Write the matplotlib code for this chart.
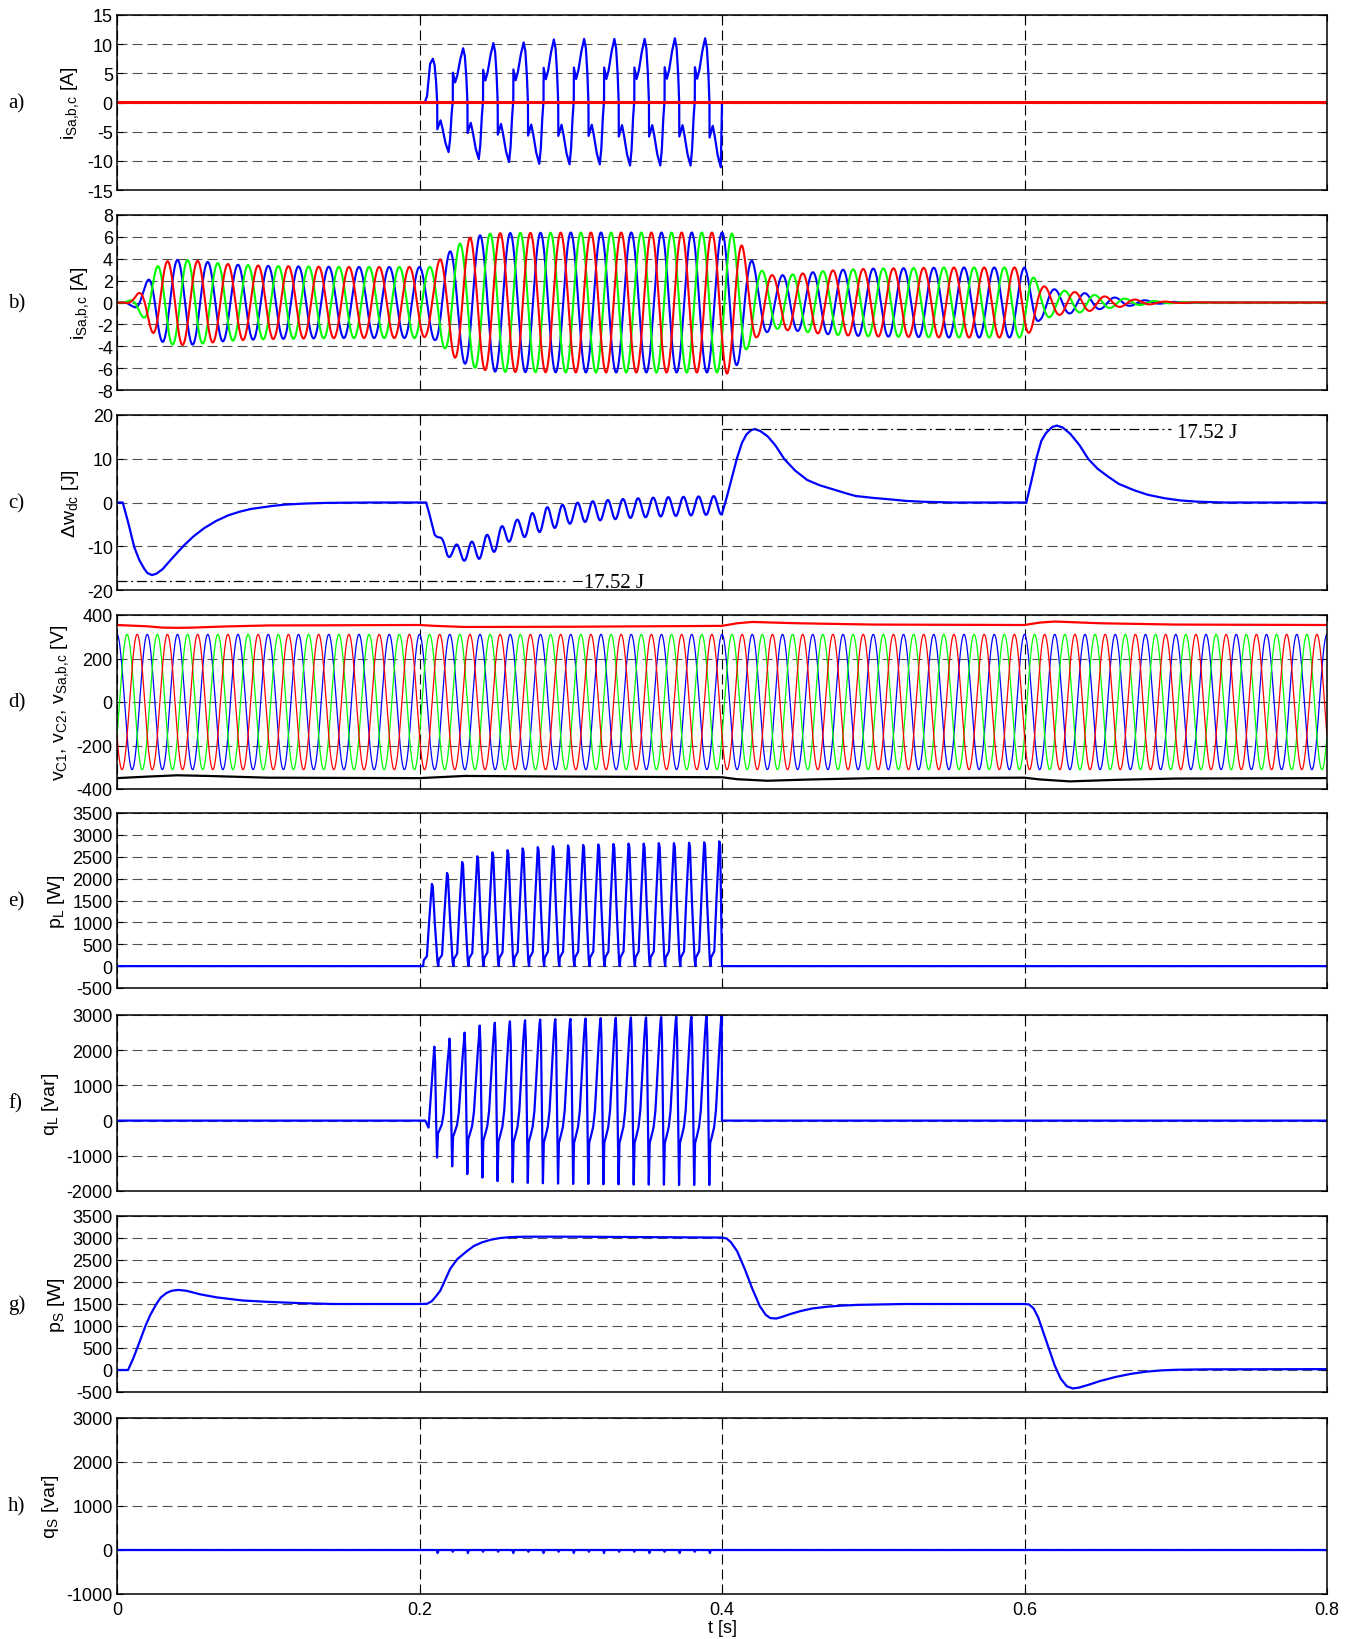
import numpy as np
import matplotlib.pyplot as plt

plt.rcParams['font.family'] = ['Liberation Sans', 'DejaVu Sans']
plt.rcParams['mathtext.default'] = 'regular'
plt.rcParams['axes.unicode_minus'] = False

W, H = 1356, 1640
F_GRID = 50.0          # supply frequency [Hz]
PERIOD = 1.0 / F_GRID

# ---------------- a) load current, one distorted period (normalised)
a_phase = [0.0, 0.004, 0.077, 0.15, 0.25, 0.342, 0.40, 0.45, 0.485, 0.489,
           0.595, 0.66, 0.76, 0.86, 0.91, 0.96, 0.996]
a_shape = [0.0, 0.55, 0.37, 0.50, 0.80, 1.0, 0.85, 0.45, 0.0, -0.54,
           -0.36, -0.52, -0.82, -1.0, -0.75, -0.25, 0.0]
a_first_rise = [0.0, 0.0, 0.0, 0.15, 0.88]
a_pos_peak = [7.5, 9.3, 10.2, 10.3, 10.8, 10.9, 10.9, 10.9, 11.0, 11.0]
a_neg_peak = [8.5, 9.7, 10.2, 10.5, 10.6, 10.6, 10.8, 10.8, 10.8, 11.1]
a_start = 0.2020

# ---------------- b) source current amplitude envelope
b_env_t = [0.0, 0.005, 0.011, 0.015, 0.018, 0.021, 0.024, 0.027, 0.030, 0.034,
           0.040, 0.050, 0.060, 0.070, 0.080, 0.100, 0.120, 0.150, 0.200, 0.2038,
           0.2071, 0.2104, 0.2137, 0.2170, 0.2203, 0.2236, 0.2269, 0.2302, 0.2335, 0.2369,
           0.2402, 0.2435, 0.2468, 0.2550, 0.300, 0.350, 0.400, 0.4034, 0.4067, 0.4100,
           0.4133, 0.4166, 0.4200, 0.4232, 0.4265, 0.4300, 0.4332, 0.4366, 0.4400, 0.4500,
           0.4650, 0.4800, 0.5000, 0.5500, 0.6000, 0.6050, 0.6100, 0.6200, 0.6300, 0.6400,
           0.6500, 0.6600, 0.6700, 0.6800, 0.6900, 0.7000, 0.7200, 0.8000]
b_env_v = [0.0, 0.0, 0.4, 1.0, 1.5, 2.2, 2.85, 3.35, 3.6, 3.8,
           3.9, 3.85, 3.7, 3.55, 3.45, 3.35, 3.3, 3.25, 3.25, 3.15,
           3.27, 3.45, 3.97, 4.2, 4.7, 5.06, 5.4, 5.6, 5.94, 5.97,
           6.15, 6.18, 6.3, 6.35, 6.4, 6.4, 6.4, 6.5, 6.3, 5.7,
           5.2, 4.2, 3.8, 3.15, 2.9, 2.7, 2.5, 2.4, 2.5, 2.6,
           2.85, 3.0, 3.1, 3.2, 3.2, 2.5, 1.6, 1.2, 1.0, 0.85,
           0.6, 0.45, 0.3, 0.2, 0.1, 0.05, 0.0, 0.0]

# ---------------- c) dc-link energy deviation (trend + 100 Hz ripple)
c_t = [0.0, 0.0038, 0.007, 0.0112, 0.0145, 0.0177, 0.020, 0.023, 0.026, 0.030,
       0.035, 0.0437, 0.050, 0.057, 0.065, 0.073, 0.080, 0.088, 0.100, 0.110,
       0.120, 0.135, 0.160, 0.2044, 0.2100, 0.2133, 0.218, 0.222, 0.232, 0.242,
       0.252, 0.262, 0.272, 0.282, 0.290, 0.300, 0.320, 0.340, 0.360, 0.380,
       0.400, 0.4001, 0.403, 0.406, 0.4098, 0.413, 0.416, 0.419, 0.4215, 0.425,
       0.430, 0.435, 0.441, 0.448, 0.456, 0.464, 0.4708, 0.480, 0.488, 0.498,
       0.509, 0.520, 0.530, 0.550, 0.6012, 0.604, 0.6078, 0.611, 0.614, 0.618,
       0.6212, 0.625, 0.630, 0.636, 0.642, 0.648, 0.6537, 0.662, 0.6716, 0.681,
       0.692, 0.702, 0.713, 0.730, 0.800]
c_v = [0, 0, -4, -10, -13, -15, -16.1, -16.6, -16.3, -15.3,
       -13.3, -10, -7.9, -6, -4.3, -3, -2.2, -1.5, -0.9, -0.5,
       -0.3, -0.1, 0, 0, -7.0, -8.5, -10.8, -11.2, -11.4, -10.3,
       -8.3, -6.3, -5.3, -3.8, -3.3, -2.5, -1.8, -1.3, -1.0, -0.8,
       -0.6, -2.5, 1, 5, 10, 13.5, 15.5, 16.5, 16.8, 16.4,
       15.2, 13.2, 10, 7.4, 5.2, 4.0, 3.3, 2.3, 1.5, 1.1,
       0.8, 0.4, 0.2, 0, 0, 4, 10, 14, 15.8, 17.2,
       17.6, 17.2, 15.8, 13.3, 10, 7.8, 6.3, 4.3, 2.9, 1.8,
       1.0, 0.5, 0.2, 0, 0]
c_osc_t = [0.0, 0.2044, 0.212, 0.218, 0.222, 0.232, 0.242, 0.252, 0.262, 0.272,
           0.282, 0.300, 0.350, 0.400, 0.4001, 0.8]
c_osc_a = [0, 0, 0.5, 1.5, 1.5, 2.1, 2.35, 2.5, 2.0, 2.45,
           2.6, 2.3, 2.2, 2.1, 0, 0]
c_osc_top = 0.2045
c_ref_low = -17.9
c_ref_high = 16.9

# ---------------- d) dc capacitor voltages, source voltage amplitude
d_amp = 311.0
vc1_t = [0.0, 0.02, 0.03, 0.04, 0.05, 0.07, 0.10, 0.20, 0.21, 0.23, 0.30,
         0.40, 0.41, 0.42, 0.45, 0.50, 0.60, 0.61, 0.62, 0.65, 0.70, 0.80]
vc1_v = [354, 348, 342, 341, 342, 347, 352, 354, 350, 345, 346,
         350, 362, 368, 362, 356, 354, 365, 370, 362, 356, 354]
vc2_t = [0.0, 0.02, 0.04, 0.06, 0.10, 0.20, 0.23, 0.30, 0.40, 0.41,
         0.43, 0.46, 0.50, 0.60, 0.61, 0.63, 0.66, 0.70, 0.80]
vc2_v = [-350, -343, -337, -340, -348, -350, -340, -343, -346, -355,
         -362, -356, -350, -348, -356, -365, -358, -352, -350]

# ---------------- e) load active power, one 100 Hz pulse (normalised)
e_phase = [0.0, 0.04, 0.25, 0.40, 0.58, 0.64, 0.78, 0.95]
e_shape = [0.0, 0.07, 0.12, 0.55, 1.0, 0.97, 0.50, 0.05]
e_peaks = [1880, 2130, 2380, 2510, 2600, 2650, 2690, 2720, 2740, 2760,
           2770, 2780, 2790, 2800, 2800, 2810, 2810, 2820, 2830, 2850]
e_start = 0.2024

# ---------------- f) load reactive power
f_lead_t = [0.0, 0.2038, 0.2060]
f_lead_v = [0, 0, -200]
f_phase = [0.0, 0.05, 0.12, 0.18, 0.24, 0.35, 0.50, 0.62, 0.75, 0.88, 0.96]
f_shape = [1.0, 0.8, 0.0, -1.0, -0.35, -0.25, -0.1, 0.1, 0.45, 0.8, 0.97]
f_peaks = [2100, 2330, 2500, 2700, 2780, 2820, 2850, 2870, 2880, 2890,
           2900, 2910, 2920, 2930, 2930, 2940, 2950, 2950, 2960, 2980]
f_mins = [1050, 1300, 1520, 1620, 1720, 1750, 1770, 1780, 1790, 1800,
          1800, 1810, 1810, 1820, 1820, 1820, 1830, 1830, 1830, 1830]
f_start = 0.2098

# ---------------- g) source active power
g_t = [0.0, 0.0073, 0.0106, 0.0145, 0.0188, 0.022, 0.026, 0.029, 0.0327, 0.036,
       0.0404, 0.046, 0.055, 0.066, 0.083, 0.099, 0.121, 0.143, 0.200, 0.205,
       0.208, 0.211, 0.2137, 0.217, 0.2203, 0.225, 0.2313, 0.236, 0.2413, 0.247,
       0.2534, 0.260, 0.270, 0.300, 0.350, 0.400, 0.403, 0.406, 0.410, 0.415,
       0.420, 0.425, 0.429, 0.432, 0.436, 0.440, 0.445, 0.452, 0.460, 0.470,
       0.480, 0.490, 0.520, 0.600, 0.603, 0.606, 0.609, 0.612, 0.616, 0.620,
       0.624, 0.628, 0.632, 0.636, 0.642, 0.650, 0.660, 0.670, 0.680, 0.690,
       0.700, 0.720, 0.800]
g_v = [0, 0, 250, 600, 1000, 1250, 1500, 1650, 1750, 1800,
       1820, 1800, 1720, 1650, 1580, 1550, 1520, 1500, 1500, 1505,
       1560, 1680, 1800, 2050, 2300, 2520, 2700, 2820, 2900, 2960,
       3000, 3020, 3030, 3030, 3020, 3010, 2990, 2900, 2700, 2300,
       1850, 1450, 1250, 1180, 1170, 1210, 1270, 1340, 1400, 1440,
       1465, 1480, 1500, 1500, 1490, 1400, 1200, 900, 500, 100,
       -200, -370, -420, -400, -340, -250, -160, -90, -40, -10,
       5, 15, 20]

# ---------------- h) source reactive power (small notches)
h_spike_t = [0.212, 0.222, 0.232, 0.242, 0.252, 0.262, 0.272, 0.282, 0.292, 0.302,
             0.312, 0.322, 0.332, 0.342, 0.352, 0.362, 0.372, 0.382, 0.392]
h_spike_v = [-70, -40, -70, -40, -40, -70, -40, -70, -40, -70,
             -40, -70, -40, -40, -70, -40, -70, -40, -70]


def periodic(start, period, phase, shape, hi, lo):
    ts, vs = [], []
    for k in range(len(hi)):
        for p, s in zip(phase, shape):
            ts.append(start + (k + p) * period)
            vs.append(s * (hi[k] if s > 0 else lo[k]))
    return ts, vs


def cut_at(ts, vs, t_off):
    keep = [(a, b) for a, b in zip(ts, vs) if a < t_off]
    ts = [a for a, _ in keep] + [t_off, 0.8]
    vs = [b for _, b in keep] + [0.0, 0.0]
    return np.array(ts), np.array(vs)


t = np.linspace(0, 0.8, 16001)
w = 2 * np.pi * F_GRID

# a)
ta, va = periodic(a_start, PERIOD, a_phase, a_shape, a_pos_peak, a_neg_peak)
for i, r in enumerate(a_first_rise):
    va[i] = r * a_pos_peak[0]
ta, va = cut_at([0.0] + ta, [0.0] + va, 0.4)

# b)
env = np.interp(t, b_env_t, b_env_v)
ib_blue = env * np.cos(w * t)
ib_red = env * np.cos(w * t + 2 * np.pi / 3)
ib_green = env * np.cos(w * t - 2 * np.pi / 3)

# c)
dw = np.interp(t, c_t, c_v) + np.interp(t, c_osc_t, c_osc_a) * np.cos(2 * w * (t - c_osc_top))

# d)
vs_blue = d_amp * np.cos(w * t)
vs_red = d_amp * np.cos(w * t + 2 * np.pi / 3)
vs_green = d_amp * np.cos(w * t - 2 * np.pi / 3)

# e)
te, ve = periodic(e_start, PERIOD / 2, e_phase, e_shape, e_peaks, e_peaks)
te, ve = cut_at([0.0] + te, [0.0] + ve, 0.4)

# f)
tf, vf = periodic(f_start, PERIOD / 2, f_phase, f_shape, f_peaks, f_mins)
tf, vf = cut_at(f_lead_t + tf, f_lead_v + vf, 0.4)

# h)
th, vh = [0.0], [0.0]
for ts_, v_ in zip(h_spike_t, h_spike_v):
    th += [ts_ - 0.0006, ts_, ts_ + 0.0006]
    vh += [0.0, v_, 0.0]
th.append(0.8)
vh.append(0.0)

fig = plt.figure(figsize=(W / 100, H / 100), dpi=100)
tops = [16, 216, 416, 616, 814, 1016, 1217, 1419]
bots = [191, 391, 591, 790, 989, 1192, 1393, 1595]
ylims = [(-15, 15), (-8, 8), (-20, 20), (-400, 400), (-500, 3500),
         (-2000, 3000), (-500, 3500), (-1000, 3000)]
ysteps = [5, 2, 10, 200, 500, 1000, 500, 1000]
ylabels = ['$i_{Sa{,}b{,}c}$ [A]', '$i_{Sa{,}b{,}c}$ [A]', '$\\Delta w_{dc}$ [J]',
           '$v_{C1}$, $v_{C2}$, $v_{Sa{,}b{,}c}$ [V]', '$p_L$ [W]', '$q_L$ [var]',
           '$p_S$ [W]', '$q_S$ [var]']
letters = ['a)', 'b)', 'c)', 'd)', 'e)', 'f)', 'g)', 'h)']

axes = []
for i in range(8):
    ax = fig.add_axes([117 / W, 1 - bots[i] / H, 1210 / W, (bots[i] - tops[i]) / H])
    lo, hi = ylims[i]
    ax.set_xlim(0, 0.8)
    ax.set_ylim(lo, hi)
    ax.set_xticks([0, 0.2, 0.4, 0.6, 0.8])
    ax.set_yticks(np.arange(lo, hi + 1, ysteps[i]))
    ax.yaxis.grid(True, color='#505050', linestyle=(0, (9, 4.5)), linewidth=0.8)
    ax.xaxis.grid(True, color='black', linestyle=(0, (9, 4.5)), linewidth=0.8)
    ax.set_axisbelow(True)
    ax.tick_params(direction='in', length=4, width=0.8, top=True, right=True,
                   labelsize=13, pad=3)
    ax.tick_params(axis='x', pad=5)
    if i < 7:
        ax.tick_params(labelbottom=False)
    else:
        ax.set_xticklabels(['0', '0.2', '0.4', '0.6', '0.8'])
    for sp in ax.spines.values():
        sp.set_linewidth(1.1)
    ax.set_ylabel(ylabels[i], fontsize=14, labelpad=4)
    fig.text(8 / W, 1 - (tops[i] + bots[i]) / 2 / H, letters[i],
             family='Liberation Serif', fontsize=15, va='center', ha='left')
    axes.append(ax)

BLUE, RED, GREEN = '#0000ff', '#ff0000', '#00ff00'

ax = axes[0]
ax.plot(ta, va, color=BLUE, lw=1.6)
ax.plot(t, np.zeros_like(t), color=RED, lw=2.2)

ax = axes[1]
ax.plot(t, ib_blue, color=BLUE, lw=1.5)
ax.plot(t, ib_green, color=GREEN, lw=1.5)
ax.plot(t, ib_red, color=RED, lw=1.5)

ax = axes[2]
ax.plot(t, dw, color=BLUE, lw=1.6)
ax.plot([0, 0.296], [c_ref_low, c_ref_low], color='black', lw=0.9,
        linestyle=(0, (8, 3, 1.5, 3)))
ax.plot([0.4, 0.697], [c_ref_high, c_ref_high], color='black', lw=0.9,
        linestyle=(0, (8, 3, 1.5, 3)))
ax.text(0.3005, -18.2, '\u221217.52 J', family='Liberation Serif', fontsize=15,
        va='center', ha='left')
ax.text(0.701, 15.9, '17.52 J', family='Liberation Serif', fontsize=15,
        va='center', ha='left')

ax = axes[3]
ax.plot(t, vs_blue, color=BLUE, lw=0.9)
ax.plot(t, vs_green, color=GREEN, lw=0.9)
ax.plot(t, vs_red, color=RED, lw=0.9)
ax.plot(vc1_t, vc1_v, color=RED, lw=1.6)
ax.plot(vc2_t, vc2_v, color='black', lw=1.6)

axes[4].plot(te, ve, color=BLUE, lw=1.6)
axes[5].plot(tf, vf, color=BLUE, lw=1.6)
axes[6].plot(g_t, g_v, color=BLUE, lw=1.6)
axes[7].plot(th, vh, color=BLUE, lw=1.6)

fig.text(722 / W, 1 - 1629 / H, 't [s]', fontsize=13, ha='center', va='center')

fig.savefig('out.png', dpi=100)
